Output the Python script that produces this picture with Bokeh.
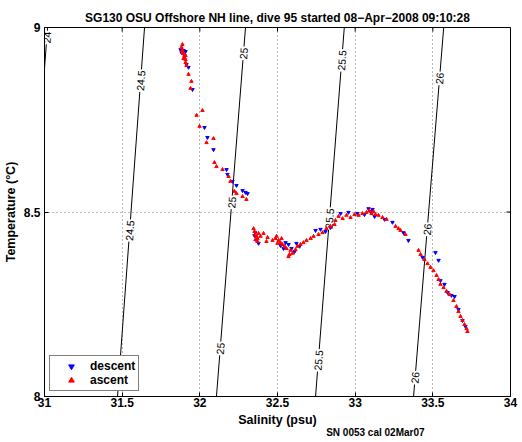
import math
from bokeh.plotting import figure
from bokeh.models import FixedTicker, Legend, LegendItem, Range1d, LinearAxis
from bokeh.core.properties import value
from bokeh.embed import file_html
from bokeh.resources import INLINE

# ---------------- data ----------------
title_text = "SG130 OSU Offshore NH line, dive 95 started 08\u2212Apr\u22122008 09:10:28"
x_label = "Salinity (psu)"
y_label = "Temperature (\u00b0C)"
footer_text = "SN 0053 cal 02Mar07"
footer_pos = 33.13   # salinity under which the footer is centred

x_ticks = [31, 31.5, 32, 32.5, 33, 33.5, 34]
x_tick_labels = ["31", "31.5", "32", "32.5", "33", "33.5", "34"]
y_ticks = [8, 8.5, 9]
y_tick_labels = ["8", "8.5", "9"]

# isopycnals (sigma-theta): salinity where each crosses T=8 and T=9
contour_levels = [24.0, 24.5, 25.0, 25.5, 26.0]
contour_s_t8 = [30.84, 31.47, 32.107, 32.745, 33.376]
contour_s_t9 = [31.02, 31.644, 32.294, 32.93, 33.57]

# contour label positions (level, temperature)
label_levels = [24.0, 24.5, 24.5, 25.0, 25.0, 25.0, 25.5, 25.5, 25.5, 26.0, 26.0, 26.0]
label_temps = [8.973, 8.856, 8.450, 8.93, 8.526, 8.130, 8.911, 8.482, 8.098, 8.862, 8.453, 8.051]
label_texts = ["24", "24.5", "24.5", "25", "25", "25", "25.5", "25.5", "25.5", "26", "26", "26"]

descent_s = [31.895, 31.882, 31.901, 31.914, 31.927, 31.953, 32.030, 32.049, 32.088, 32.172,
             32.178, 32.210, 32.236, 32.275, 32.294, 32.307, 31.876, 31.908,
             32.365, 32.378, 32.352, 32.356,
             32.552, 32.571, 32.539, 32.520,
             32.622, 32.642, 32.610, 32.590,
             32.745, 32.777, 32.809, 32.840,
             32.906, 32.957, 33.015, 33.086, 33.112, 33.125, 33.189, 33.060, 33.099,
             33.240, 33.311, 33.343, 33.434, 33.517, 33.537, 33.549, 33.575, 33.595,
             33.620, 33.640, 33.665, 33.691, 33.710]
descent_t = [8.938, 8.932, 8.924, 8.900, 8.892, 8.832, 8.729, 8.702, 8.669, 8.615,
             8.602, 8.583, 8.572, 8.558, 8.553, 8.550, 8.940, 8.935,
             8.423, 8.415, 8.436, 8.444,
             8.417, 8.412, 8.401, 8.409,
             8.415, 8.407, 8.393, 8.401,
             8.450, 8.453, 8.447, 8.458,
             8.496, 8.499, 8.496, 8.509, 8.507, 8.488, 8.480, 8.493, 8.501,
             8.472, 8.444, 8.423, 8.377, 8.390, 8.369, 8.314, 8.304, 8.282,
             8.274, 8.271, 8.236, 8.206, 8.190]

ascent_s = [31.888, 31.882, 31.888, 31.895, 31.901, 31.901, 31.908, 31.908, 31.914, 31.927,
            31.946, 31.940, 32.017, 31.979, 31.998, 32.088, 32.043, 32.094, 32.107, 32.146,
            32.185, 32.197, 32.223, 32.236, 32.275, 32.300, 31.895, 31.908, 31.888,
            32.346, 32.352, 32.358, 32.365, 32.371, 32.378, 32.391, 32.358, 32.371, 32.410,
            32.436, 32.429, 32.468, 32.494,
            32.487, 32.507, 32.519, 32.532, 32.545, 32.558, 32.500, 32.526,
            32.584, 32.597, 32.577, 32.571, 32.616, 32.629, 32.648, 32.667, 32.687,
            32.713, 32.732, 32.764, 32.790, 32.815, 32.841, 32.867,
            32.873, 32.893, 32.919, 32.944, 32.970, 32.996, 33.022, 33.047, 33.073, 33.092,
            33.105, 33.118, 33.131, 33.150, 33.176, 33.202,
            33.260, 33.279, 33.292, 33.324, 33.408, 33.421, 33.446, 33.466, 33.485, 33.504,
            33.524, 33.537, 33.549, 33.569, 33.588, 33.608, 33.633, 33.652, 33.665, 33.678,
            33.691, 33.704, 33.717, 33.723]
ascent_t = [8.954, 8.946, 8.938, 8.930, 8.924, 8.919, 8.913, 8.905, 8.897, 8.873,
            8.854, 8.835, 8.775, 8.762, 8.732, 8.699, 8.688, 8.634, 8.623, 8.615,
            8.596, 8.583, 8.556, 8.550, 8.542, 8.534, 8.916, 8.924, 8.932,
            8.455, 8.447, 8.439, 8.434, 8.428, 8.442, 8.434, 8.425, 8.420, 8.442,
            8.431, 8.420, 8.423, 8.434,
            8.428, 8.423, 8.417, 8.412, 8.407, 8.401, 8.415, 8.428,
            8.396, 8.388, 8.385, 8.379, 8.398, 8.407, 8.412, 8.417, 8.423,
            8.428, 8.434, 8.439, 8.444, 8.455, 8.461, 8.466,
            8.477, 8.488, 8.482, 8.491, 8.485, 8.493, 8.491, 8.496, 8.499, 8.504,
            8.496, 8.501, 8.493, 8.491, 8.485, 8.480,
            8.461, 8.455, 8.450, 8.439, 8.396, 8.385, 8.371, 8.360, 8.350, 8.341,
            8.328, 8.317, 8.304, 8.295, 8.285, 8.276, 8.260, 8.244, 8.230, 8.217,
            8.206, 8.195, 8.184, 8.176]

# ---------------- figure ----------------
FONT = "Liberation Sans"
FW, FH = 466, 369
x0, x1, y0, y1 = 31, 34, 8, 9

p = figure(width=520, height=440, x_range=Range1d(x0, x1), y_range=Range1d(y0, y1),
           output_backend="svg", toolbar_location=None,
           min_border_left=44, min_border_right=10, min_border_top=27, min_border_bottom=44)
p.background_fill_color = "white"
p.border_fill_color = "white"
p.outline_line_color = "black"
p.outline_line_width = 1

p.title.text = title_text
p.title.align = "center"
p.title.text_font = FONT
p.title.text_font_style = "bold"
p.title.text_font_size = "12px"
p.title.text_color = "black"
p.title.standoff = 6

for ax in (p.xaxis[0], p.yaxis[0]):
    ax.major_tick_in = 4
    ax.major_tick_out = 0
    ax.minor_tick_in = 0
    ax.minor_tick_out = 0
    ax.axis_line_color = "black"
    ax.major_tick_line_color = "black"
    ax.major_label_text_font = FONT
    ax.major_label_text_font_style = "bold"
    ax.major_label_text_font_size = "12px"
    ax.major_label_text_color = "black"
    ax.axis_label_text_font = FONT
    ax.axis_label_text_font_style = "bold"
    ax.axis_label_text_font_size = "12.5px"
    ax.axis_label_text_color = "black"

p.xaxis[0].ticker = FixedTicker(ticks=x_ticks)
p.xaxis[0].major_label_overrides = dict(zip(x_ticks, x_tick_labels))
p.xaxis[0].major_label_standoff = 1
p.xaxis[0].axis_label = x_label
p.xaxis[0].axis_label_standoff = 3

p.yaxis[0].ticker = FixedTicker(ticks=y_ticks)
p.yaxis[0].major_label_overrides = dict(zip(y_ticks, y_tick_labels))
p.yaxis[0].major_label_standoff = 4
p.yaxis[0].axis_label = y_label
p.yaxis[0].axis_label_standoff = 3

# footer drawn as the single label of a bare second bottom axis
foot_ax = LinearAxis(ticker=FixedTicker(ticks=[footer_pos]),
                     major_label_overrides={footer_pos: footer_text},
                     axis_line_color=None, major_tick_line_color=None,
                     major_tick_in=0, major_tick_out=0, minor_tick_in=0, minor_tick_out=0,
                     major_label_standoff=-3,
                     major_label_text_font=FONT, major_label_text_font_style="bold",
                     major_label_text_font_size="10px", major_label_text_color="black")
p.add_layout(foot_ax, "below")

p.xgrid.ticker = FixedTicker(ticks=x_ticks)
p.ygrid.ticker = FixedTicker(ticks=y_ticks)
for g in (p.xgrid[0], p.ygrid[0]):
    g.grid_line_color = "black"
    g.grid_line_alpha = 0.55
    g.grid_line_dash = "1 3"
    g.grid_line_width = 1

# inward ticks on the top and right edges of the box
tick_dx = 4 * (x1 - x0) / FW
tick_dy = 4 * (y1 - y0) / FH
p.segment(x0=x_ticks, y0=[y1] * len(x_ticks), x1=x_ticks, y1=[y1 - tick_dy] * len(x_ticks),
          line_color="black", line_width=1)
p.segment(x0=[x1] * len(y_ticks), y0=y_ticks, x1=[x1 - tick_dx] * len(y_ticks), y1=y_ticks,
          line_color="black", line_width=1)

# contours
p.multi_line(xs=[[a, b] for a, b in zip(contour_s_t8, contour_s_t9)],
             ys=[[y0, y1] for _ in contour_levels],
             line_color="black", line_width=1)

px_per_s = FW / (x1 - x0)
px_per_t = FH / (y1 - y0)
lab_x, lab_ang = [], []
for lev, t in zip(label_levels, label_temps):
    i = contour_levels.index(lev)
    s8, s9 = contour_s_t8[i], contour_s_t9[i]
    lab_x.append(s8 + (s9 - s8) * (t - y0) / (y1 - y0))
    lab_ang.append(math.atan2(px_per_t, (s9 - s8) * px_per_s))

p.text(x=lab_x, y=label_temps, text=label_texts, angle=lab_ang,
       text_font=value(FONT), text_font_size="10.5px", text_color="black",
       text_align="center", text_baseline="middle",
       background_fill_color="white", padding=1)

# data points
r_desc = p.scatter(descent_s, descent_t, marker="inverted_triangle", size=3.4,
                   fill_color="blue", line_color="blue")
r_asc = p.scatter(ascent_s, ascent_t, marker="triangle", size=3.4,
                  fill_color="red", line_color="red")

legend = Legend(items=[LegendItem(label="descent", renderers=[r_desc]),
                       LegendItem(label="ascent", renderers=[r_asc])],
                location=(5, 5))
legend.label_text_font = FONT
legend.label_text_font_style = "bold"
legend.label_text_font_size = "12px"
legend.label_text_color = "black"
legend.border_line_color = "black"
legend.border_line_width = 1
legend.background_fill_color = "white"
legend.background_fill_alpha = 1
legend.padding = 3
legend.margin = 0
legend.spacing = 0
legend.glyph_width = 36
legend.glyph_height = 14
legend.label_height = 14
legend.label_standoff = 1
p.add_layout(legend, "center")

open("out.html", "w").write(file_html(p, INLINE))
